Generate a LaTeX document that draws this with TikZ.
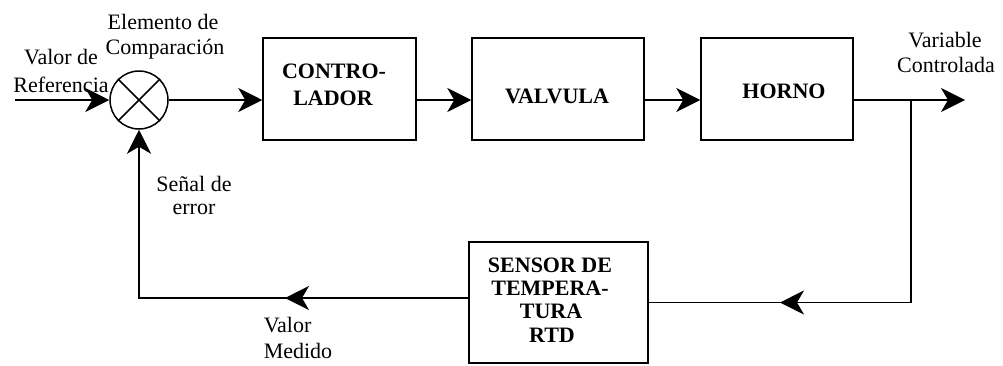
\documentclass[tikz,border=0pt]{standalone}
\usepackage{fontspec}
\setmainfont{Liberation Serif}
\usetikzlibrary{arrows.meta}
\begin{document}
\begin{tikzpicture}[x=1pt,y=-1pt,
  every path/.style={line width=1.5pt},
  blk/.style={draw,line width=1.5pt,rectangle,inner sep=0pt},
  txt/.style={inner sep=0pt,anchor=base,font=\fontsize{22}{26}\selectfont},
  btxt/.style={inner sep=0pt,anchor=base,font=\fontsize{22}{26}\selectfont\bfseries},
  arr/.style={-{Stealth[length=24pt,width=24pt,inset=7pt]}}]
\useasboundingbox (0,0) rectangle (1003,365);
% blocks
\node[draw,circle,line width=1.5pt,minimum size=58pt,inner sep=0pt] (sum) at (139,100) {};
\draw (sum.north west) -- (sum.south east);
\draw (sum.north east) -- (sum.south west);
\node[blk,minimum width=153pt,minimum height=102pt] (ctrl) at (339.5,89) {};
\node[blk,minimum width=172pt,minimum height=102pt] (valv) at (558,89) {};
\node[blk,minimum width=152pt,minimum height=102pt] (horno) at (777,89) {};
\node[blk,minimum width=179pt,minimum height=121pt] (sensor) at (558.5,302.5) {};
% block texts
\node[btxt] (ctrlA) at (334,78) {CONTRO-};
\node[btxt] (ctrlB) at (333,105) {LADOR};
\node[btxt] (valvT) at (557,103) {VALVULA};
\node[btxt] (hornoT) at (784,98) {HORNO};
\node[btxt] (sensA) at (550,272) {SENSOR DE};
\node[btxt] (sensB) at (550,295) {TEMPERA-};
\node[btxt] (sensC) at (551,318) {TURA};
\node[btxt] (sensD) at (552,342) {RTD};
% labels
\node[txt] (refA) at (61,64) {Valor de};
\node[txt] (refB) at (61,92) {Referencia};
\node[txt] (elemA) at (163,29) {Elemento de};
\node[txt] (elemB) at (165,54) {Comparación};
\node[txt] (varA) at (945,47) {Variable};
\node[txt] (varB) at (946,72) {Controlada};
\node[txt] (errA) at (194,191) {Señal de};
\node[txt] (errB) at (194,214) {error};
\node[txt,anchor=base west] (medA) at (263,332) {Valor};
\node[txt,anchor=base west] (medB) at (263,358) {Medido};
% coordinates
\coordinate (in) at (15,100);
\coordinate (out) at (965,100);
\coordinate (br) at (911,100);
\coordinate (m1) at (780,302.5);
\coordinate (sw) at ([yshift=4.5pt]sensor.west);
\coordinate (m2) at (285,298);
% connectors
\draw[arr] (in) -- (sum.west);
\draw[arr] (sum.east) -- (sum.east -| ctrl.west);
\draw[arr] (ctrl.east |- sum.east) -- (valv.west |- sum.east);
\draw[arr] (valv.east |- sum.east) -- (horno.west |- sum.east);
\draw[arr] (horno.east |- sum.east) -- (out);
\draw (br) |- (sensor.east);
\draw[arr] (br |- sensor.east) -- (m1);
\draw[arr] (sw) -| (sum.south);
\draw[arr] (sw) -- (m2);
\end{tikzpicture}
\end{document}
